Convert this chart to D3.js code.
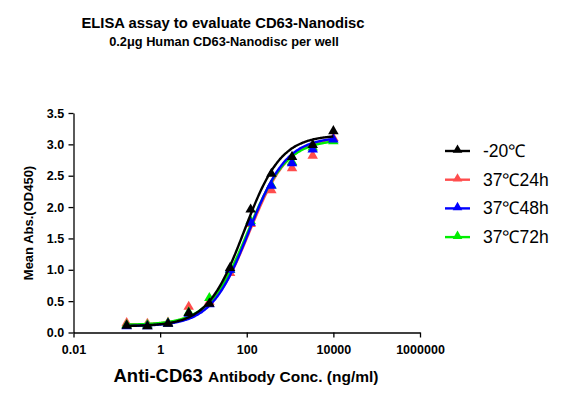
<!DOCTYPE html>
<html><head><meta charset="utf-8">
<script src="https://cdn.jsdelivr.net/npm/d3@7"></script>
<style>body{margin:0;background:#fff}svg{display:block}text{font-family:"Liberation Sans",Arial,sans-serif}</style>
</head><body>
<script>
const conc = [0.169, 0.508, 1.52, 4.57, 13.7, 41.2, 123, 370, 1111, 3333, 10000];
const seriesNames = ["-20℃", "37℃24h", "37℃48h", "37℃72h"];
const seriesColors = ["#000000", "#ff4d4d", "#0000ff", "#00ee00"];
const valsM20 = [0.11, 0.10, 0.14, 0.31, 0.46, 1.03, 1.96, 2.53, 2.80, 2.99, 3.21];
const vals24h = [0.15, 0.14, 0.16, 0.41, 0.49, 0.95, 1.73, 2.27, 2.62, 2.82, 3.10];
const vals48h = [0.10, 0.10, 0.14, 0.30, 0.45, 1.00, 1.75, 2.34, 2.70, 2.92, 3.08];
const vals72h = [0.12, 0.12, 0.15, 0.32, 0.55, 1.00, 1.78, 2.35, 2.72, 2.95, 3.05];
// 4PL fit parameters [bottom, top, EC50, hill]
const fitM20 = [0.10, 3.15, 88, 1.02];
const fit24h = [0.12, 3.12, 118, 0.97];
const fit48h = [0.10, 3.12, 112, 1.0];
const fit72h = [0.12, 3.08, 105, 0.97];
const xTicks = [0.01, 1, 100, 10000, 1000000];
const yTicks = [0, 0.5, 1.0, 1.5, 2.0, 2.5, 3.0, 3.5];

const series = [valsM20, vals24h, vals48h, vals72h];
const fits = [fitM20, fit24h, fit48h, fit72h];

const svg = d3.select("body").append("svg").attr("width", 583).attr("height", 400);
const x = d3.scaleLog().domain([0.01, 1000000]).range([73.5, 420]);
const y = d3.scaleLinear().domain([0, 3.5]).range([332.5, 113]);

svg.append("text").attr("x", 223).attr("y", 28).attr("text-anchor", "middle")
  .attr("font-size", 14.8).attr("font-weight", "bold").text("ELISA assay to evaluate CD63-Nanodisc");
svg.append("text").attr("x", 224).attr("y", 46).attr("text-anchor", "middle")
  .attr("font-size", 12.8).attr("font-weight", "bold").text("0.2μg Human CD63-Nanodisc per well");

const xa = svg.append("g").attr("transform", "translate(0,332.5)")
  .call(d3.axisBottom(x).tickValues(xTicks).tickFormat(d => String(d)).tickSize(5).tickSizeOuter(0));
const ya = svg.append("g").attr("transform", "translate(73.5,0)")
  .call(d3.axisLeft(y).tickValues(yTicks).tickFormat(d3.format(".1f")).tickSize(5).tickSizeOuter(0));
[xa, ya].forEach(a => {
  a.selectAll("path,line").attr("stroke", "#000").attr("stroke-width", 1.3);
  a.selectAll("text").attr("font-size", 12.5).attr("font-weight", "bold").attr("fill", "#000")
    .attr("font-family", "Liberation Sans, Arial, sans-serif");
});
xa.selectAll("text").attr("dy", "1.05em");
ya.selectAll("text").attr("dx", "-0.1em");

svg.append("text").attr("transform", "translate(33,223) rotate(-90)").attr("text-anchor", "middle")
  .attr("font-size", 13).attr("font-weight", "bold").text("Mean Abs.(OD450)");
const xl = svg.append("text").attr("x", 246).attr("y", 382).attr("text-anchor", "middle").attr("font-weight", "bold");
xl.append("tspan").attr("font-size", 18.5).text("Anti-CD63 ");
xl.append("tspan").attr("font-size", 15.5).text("Antibody Conc. (ng/ml)");

const fourPL = (p, c) => p[0] + (p[1] - p[0]) / (1 + Math.pow(p[2] / c, p[3]));
const tri = d3.symbol().type(d3.symbolTriangle).size(48);

// draw back to front so black on top
const order = [1, 3, 2, 0];
order.forEach(i => {
  const col = seriesColors[i];
  const xs = d3.range(0, 201).map(k => Math.pow(10, Math.log10(conc[0]) + k / 200 * (Math.log10(conc[conc.length - 1]) - Math.log10(conc[0]))));
  svg.append("path").datum(xs).attr("fill", "none").attr("stroke", col).attr("stroke-width", 2.4)
    .attr("d", d3.line().x(c => x(c)).y(c => y(fourPL(fits[i], c))).curve(d3.curveBasis));
  svg.append("g").selectAll("path").data(conc).join("path")
    .attr("transform", (c, j) => `translate(${x(c)},${y(series[i][j])})`)
    .attr("d", tri).attr("fill", col);
});

const leg = svg.append("g");
seriesNames.forEach((n, i) => {
  const ly = 151 + i * 28.7;
  leg.append("line").attr("x1", 445).attr("x2", 470).attr("y1", ly).attr("y2", ly)
    .attr("stroke", seriesColors[i]).attr("stroke-width", 2.4);
  leg.append("path").attr("transform", `translate(457.5,${ly - 1})`).attr("d", d3.symbol().type(d3.symbolTriangle).size(40)).attr("fill", seriesColors[i]);
  leg.append("text").attr("x", 483).attr("y", ly + 6).attr("font-size", 17.5).text(n);
});
</script>
</body></html>
